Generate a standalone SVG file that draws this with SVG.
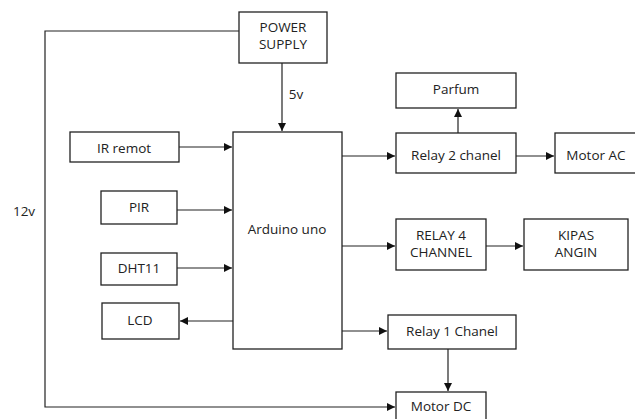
<svg xmlns="http://www.w3.org/2000/svg" width="635" height="419" viewBox="0 0 635 419">
<style>
.box{fill:#fff;stroke:#222;stroke-width:1.3}
.t{font-family:"Open Sans","Liberation Sans",sans-serif;font-size:13.5px;fill:#222;text-anchor:middle;dominant-baseline:central}
.c{fill:none;stroke:#222;stroke-width:1.2}
</style>
<defs>
<marker id="ah" viewBox="0 0 10 10" refX="10" refY="5" markerWidth="8" markerHeight="8" markerUnits="userSpaceOnUse" orient="auto">
<path d="M0,0 L10,5 L0,10 z" fill="#111"/>
</marker>
</defs>
<rect width="635" height="419" fill="#fff"/>
<g id="connectors">
<path class="c" d="M239,31 H45 V407 H395" marker-end="url(#ah)"/>
<path class="c" d="M282,63 V131" marker-end="url(#ah)"/>
<path class="c" d="M179,147 H232" marker-end="url(#ah)"/>
<path class="c" d="M177,210 H232" marker-end="url(#ah)"/>
<path class="c" d="M177,268 H232" marker-end="url(#ah)"/>
<path class="c" d="M233,321 H180" marker-end="url(#ah)"/>
<path class="c" d="M342,156 H395" marker-end="url(#ah)"/>
<path class="c" d="M458,133 V109" marker-end="url(#ah)"/>
<path class="c" d="M516,156 H554" marker-end="url(#ah)"/>
<path class="c" d="M342,246 H395" marker-end="url(#ah)"/>
<path class="c" d="M486,246 H523" marker-end="url(#ah)"/>
<path class="c" d="M342,331 H387" marker-end="url(#ah)"/>
<path class="c" d="M448,349 V391" marker-end="url(#ah)"/>
<text class="t" x="296" y="94">5v</text>
<text class="t" x="24" y="211">12v</text>
</g>
<g id="power"><rect class="box" x="239" y="12" width="88" height="51"/><text class="t" x="283" y="27">POWER</text><text class="t" x="283" y="44">SUPPLY</text></g>
<g id="arduino"><rect class="box" x="233" y="132" width="109" height="217"/><text class="t" x="287" y="229">Arduino uno</text></g>
<g id="ir"><rect class="box" x="70" y="132" width="109" height="30"/><text class="t" x="124" y="148">IR remot</text></g>
<g id="pir"><rect class="box" x="101" y="191" width="76" height="33"/><text class="t" x="139" y="207">PIR</text></g>
<g id="dht"><rect class="box" x="101" y="253" width="76" height="32"/><text class="t" x="139" y="268">DHT11</text></g>
<g id="lcd"><rect class="box" x="102" y="303" width="77" height="36"/><text class="t" x="140" y="320">LCD</text></g>
<g id="parfum"><rect class="box" x="396" y="73" width="120" height="35"/><text class="t" x="456" y="89">Parfum</text></g>
<g id="relay2"><rect class="box" x="396" y="133" width="120" height="40"/><text class="t" x="456" y="155">Relay 2 chanel</text></g>
<g id="motorac"><rect class="box" x="555" y="133" width="90" height="40"/><text class="t" x="596" y="155">Motor AC</text></g>
<g id="relay4"><rect class="box" x="396" y="219" width="90" height="51"/><text class="t" x="441" y="235">RELAY 4</text><text class="t" x="441" y="252">CHANNEL</text></g>
<g id="kipas"><rect class="box" x="524" y="219" width="104" height="51"/><text class="t" x="576" y="235">KIPAS</text><text class="t" x="576" y="252">ANGIN</text></g>
<g id="relay1"><rect class="box" x="388" y="315" width="128" height="34"/><text class="t" x="452" y="331">Relay 1 Chanel</text></g>
<g id="motordc"><rect class="box" x="396" y="392" width="90" height="40"/><text class="t" x="441" y="406">Motor DC</text></g>
</svg>
